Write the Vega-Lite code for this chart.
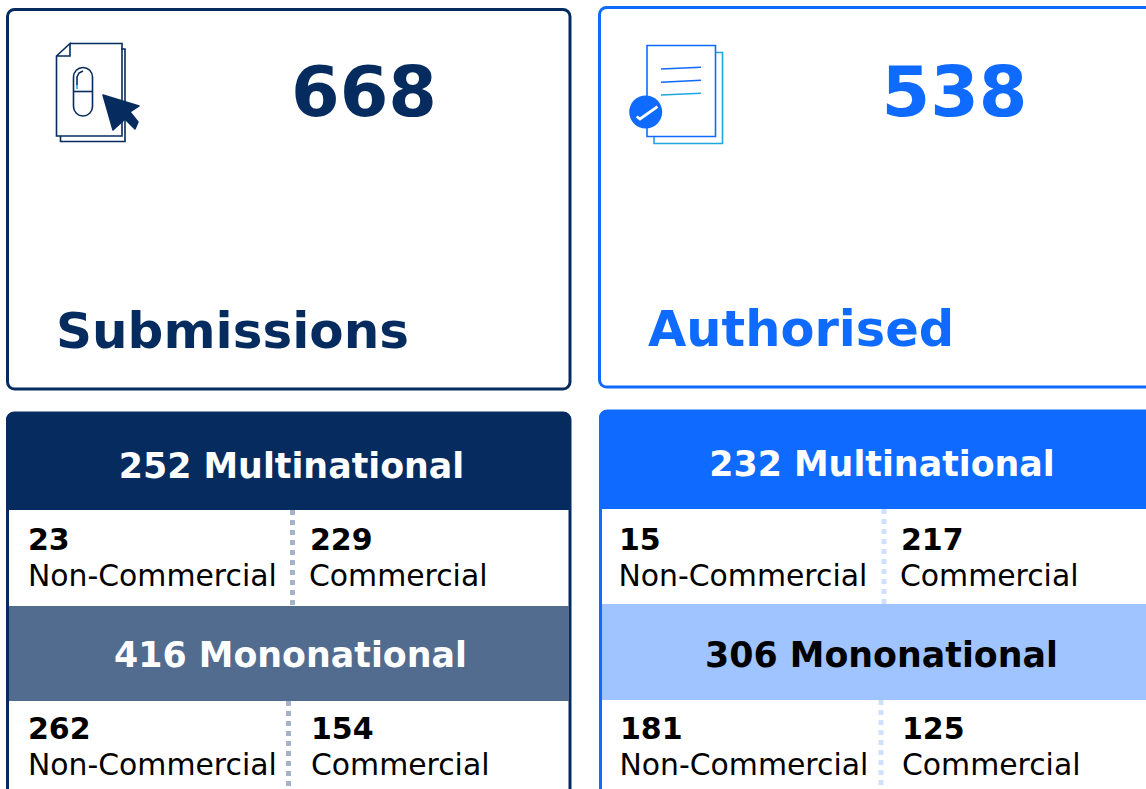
{
"$schema":"https://vega.github.io/schema/vega-lite/v6.json",
"width":1146,"height":789,"padding":0,"autosize":{"type":"none"},
"background":"white","view":{"stroke":null},
"config":{"text":{"font":"DejaVu Sans"}},
"datasets":{
"panels":[
{"name":"Submissions card","g":"navy","x0":7.5,"x1":570,"y0":9.5,"y1":389},
{"name":"Authorised card","g":"blue","x0":599.5,"x1":1170,"y0":7.5,"y1":387},
{"name":"Submissions table","g":"navy","x0":7.5,"x1":570,"y0":413,"y1":830},
{"name":"Authorised table","g":"blue","x0":600.5,"x1":1170,"y0":411,"y1":830}],
"heads":[
{"name":"Sub multinational","g":"navy","x0":6,"x1":571,"y0":412,"y1":510},
{"name":"Auth multinational","g":"blue","x0":599,"x1":1170,"y0":410,"y1":509}],
"bands":[
{"name":"Sub mononational","g":"navyLight","x0":9,"x1":568.5,"y0":606,"y1":701},
{"name":"Auth mononational","g":"blueLight","x0":602,"x1":1170,"y0":604,"y1":700}],
"dividers":[
{"g":"navyDash","x":292.5,"y0":510,"y1":605},
{"g":"navyDash","x":288.5,"y0":701,"y1":789},
{"g":"blueDash","x":884,"y0":509,"y1":604},
{"g":"blueDash","x":881,"y0":700,"y1":789}],
"big":[
{"t":"668","g":"navy","x":364,"y":116},
{"t":"538","g":"blue","x":954.5,"y":116}],
"titles":[
{"t":"Submissions","g":"navy","x":56,"y":348,"s":50},
{"t":"Authorised","g":"blue","x":648,"y":346,"s":49.5}],
"headers":[
{"t":"252 Multinational","g":"white","x":291.5,"y":478},
{"t":"232 Multinational","g":"white","x":882,"y":476},
{"t":"416 Mononational","g":"white","x":290.5,"y":667},
{"t":"306 Mononational","g":"black","x":881.5,"y":667}],
"nums":[
{"t":"23","x":28,"y":550},{"t":"229","x":310,"y":550},
{"t":"15","x":619,"y":550},{"t":"217","x":901,"y":550},
{"t":"262","x":28,"y":739},{"t":"154","x":311,"y":739},
{"t":"181","x":620,"y":739},{"t":"125","x":902,"y":739}],
"labels":[
{"t":"Non-Commercial","x":28,"y":586},{"t":"Commercial","x":309,"y":586},
{"t":"Non-Commercial","x":618.5,"y":586},{"t":"Commercial","x":900,"y":586},
{"t":"Non-Commercial","x":28,"y":775},{"t":"Commercial","x":311,"y":775},
{"t":"Non-Commercial","x":619.5,"y":775},{"t":"Commercial","x":902,"y":775}],
"iconRects":[
{"name":"auth back page","g":"cyan","x0":654,"x1":722.5,"y0":52.5,"y1":143.5},
{"name":"auth front page","g":"blue","x0":647,"x1":715.5,"y0":45.5,"y1":136.5}],
"pill":[{"name":"pill","g":"navy","x0":73.5,"x1":92.5,"y0":67.5,"y1":116}],
"iconLines":[
{"id":"back","g":"navy","o":1,"x":121,"y":49},{"id":"back","g":"navy","o":2,"x":125,"y":49},{"id":"back","g":"navy","o":3,"x":125,"y":141.5},{"id":"back","g":"navy","o":4,"x":60.5,"y":141.5},{"id":"back","g":"navy","o":5,"x":60.5,"y":136},
{"id":"front","g":"navy","o":1,"x":70,"y":43.5},{"id":"front","g":"navy","o":2,"x":122,"y":43.5},{"id":"front","g":"navy","o":3,"x":122,"y":136},{"id":"front","g":"navy","o":4,"x":56.5,"y":136},{"id":"front","g":"navy","o":5,"x":56.5,"y":56},{"id":"front","g":"navy","o":6,"x":70,"y":43.5},{"id":"front","g":"navy","o":7,"x":70,"y":56},{"id":"front","g":"navy","o":8,"x":56.5,"y":56},
{"id":"pillmid","g":"navy","o":1,"x":73.5,"y":91.5},{"id":"pillmid","g":"navy","o":2,"x":92.5,"y":91.5},
{"id":"shine","g":"navy","o":1,"x":77,"y":85},{"id":"shine","g":"navy","o":2,"x":77,"y":77},{"id":"shine","g":"navy","o":3,"x":79,"y":73},{"id":"shine","g":"navy","o":4,"x":83,"y":71},
{"id":"shine2","g":"cyan","o":1,"x":77,"y":85},{"id":"shine2","g":"cyan","o":2,"x":77,"y":89},
{"id":"l1","g":"blue","o":1,"x":661,"y":69},{"id":"l1","g":"blue","o":2,"x":701,"y":67.3},
{"id":"l2","g":"blue","o":1,"x":661,"y":82.3},{"id":"l2","g":"blue","o":2,"x":701,"y":80.3},
{"id":"l3","g":"cyan","o":1,"x":661,"y":95},{"id":"l3","g":"cyan","o":2,"x":701,"y":93.3}],
"cursor":[{"name":"cursor","g":"navy","x":103,"y":95}],
"badge":[{"name":"badge","g":"blue","x":645.7,"y":112}],
"check":[{"id":"check","g":"white","o":1,"x":636.7,"y":116.5},{"id":"check","g":"white","o":2,"x":640,"y":119},{"id":"check","g":"white","o":3,"x":657.5,"y":106.7}]
},
"encoding":{
"x":{"field":"x","type":"quantitative","scale":{"domain":[0,1146],"nice":false,"zero":false},"axis":null},
"y":{"field":"y","type":"quantitative","scale":{"domain":[789,0],"nice":false,"zero":false},"axis":null}
},
"resolve":{"scale":{"color":"shared","stroke":"shared"}},
"layer":[
{"data":{"name":"panels"},"mark":{"type":"rect","fill":"white","cornerRadius":7},
 "encoding":{"x":{"field":"x0","type":"quantitative","scale":{"domain":[0,1146]},"axis":null},"x2":{"field":"x1"},"y":{"field":"y0","type":"quantitative","scale":{"domain":[789,0]},"axis":null},"y2":{"field":"y1"}}},
{"data":{"name":"heads"},"mark":{"type":"rect","cornerRadiusTopLeft":8,"cornerRadiusTopRight":8},
 "encoding":{"x":{"field":"x0","type":"quantitative","axis":null},"x2":{"field":"x1"},"y":{"field":"y0","type":"quantitative","axis":null},"y2":{"field":"y1"},
 "color":{"field":"g","type":"nominal","legend":null,"scale":{"domain":["navy","blue","navyLight","blueLight","navyDash","blueDash","cyan","white","black"],"range":["#062c5f","#0f6bff","#526c8f","#9fc4ff","#a6b2c8","#cfe1ff","#1fa6e0","#ffffff","#000000"]}}}},
{"data":{"name":"bands"},"mark":{"type":"rect"},
 "encoding":{"x":{"field":"x0","type":"quantitative","axis":null},"x2":{"field":"x1"},"y":{"field":"y0","type":"quantitative","axis":null},"y2":{"field":"y1"},"color":{"field":"g","type":"nominal","legend":null}}},
{"data":{"name":"dividers"},"mark":{"type":"rule","strokeWidth":5,"strokeDash":[5,5]},
 "encoding":{"x":{"field":"x","type":"quantitative","axis":null},"y":{"field":"y0","type":"quantitative","axis":null},"y2":{"field":"y1"},"color":{"field":"g","type":"nominal","legend":null}}},
{"data":{"name":"panels"},"mark":{"type":"rect","fillOpacity":0,"strokeWidth":3,"cornerRadius":7,"filled":false},
 "encoding":{"x":{"field":"x0","type":"quantitative","axis":null},"x2":{"field":"x1"},"y":{"field":"y0","type":"quantitative","axis":null},"y2":{"field":"y1"},"color":{"field":"g","type":"nominal","legend":null}}},
{"data":{"name":"iconRects"},"mark":{"type":"rect","filled":false,"strokeWidth":1.6,"fill":"white","fillOpacity":1},
 "encoding":{"x":{"field":"x0","type":"quantitative","axis":null},"x2":{"field":"x1"},"y":{"field":"y0","type":"quantitative","axis":null},"y2":{"field":"y1"},"color":{"field":"g","type":"nominal","legend":null}}},
{"data":{"name":"pill"},"mark":{"type":"rect","filled":false,"strokeWidth":1.6,"cornerRadius":9.5},
 "encoding":{"x":{"field":"x0","type":"quantitative","axis":null},"x2":{"field":"x1"},"y":{"field":"y0","type":"quantitative","axis":null},"y2":{"field":"y1"},"color":{"field":"g","type":"nominal","legend":null}}},
{"data":{"name":"iconLines"},"mark":{"type":"line","strokeWidth":1.6,"strokeJoin":"miter"},
 "encoding":{"detail":{"field":"id"},"order":{"field":"o","type":"quantitative"},"color":{"field":"g","type":"nominal","legend":null}}},
{"data":{"name":"cursor"},"mark":{"type":"point","filled":true,"opacity":1,"size":4,"stroke":"#062c5f","strokeWidth":1.5,"strokeJoin":"round","shape":"M0 0L36 11L27 17L35 27L32 34L22 24L10 35Z"},
 "encoding":{"color":{"field":"g","type":"nominal","legend":null}}},
{"data":{"name":"badge"},"mark":{"type":"point","filled":true,"opacity":1,"shape":"circle","size":1089},
 "encoding":{"color":{"field":"g","type":"nominal","legend":null}}},
{"data":{"name":"check"},"mark":{"type":"line","strokeWidth":2.8},
 "encoding":{"detail":{"field":"id"},"order":{"field":"o","type":"quantitative"},"color":{"field":"g","type":"nominal","legend":null}}},
{"data":{"name":"big"},"mark":{"type":"text","font":"DejaVu Sans","fontWeight":"bold","fontSize":70,"align":"center","baseline":"alphabetic"},
 "encoding":{"text":{"field":"t"},"color":{"field":"g","type":"nominal","legend":null}}},
{"data":{"name":"titles"},"mark":{"type":"text","font":"DejaVu Sans","fontWeight":"bold","align":"left","baseline":"alphabetic"},
 "encoding":{"text":{"field":"t"},"size":{"field":"s","type":"quantitative","scale":null},"color":{"field":"g","type":"nominal","legend":null}}},
{"data":{"name":"headers"},"mark":{"type":"text","font":"DejaVu Sans","fontWeight":"bold","fontSize":34.8,"align":"center","baseline":"alphabetic"},
 "encoding":{"text":{"field":"t"},"color":{"field":"g","type":"nominal","legend":null}}},
{"data":{"name":"nums"},"mark":{"type":"text","font":"DejaVu Sans","fontWeight":"bold","fontSize":30,"align":"left","baseline":"alphabetic","color":"#000000"},
 "encoding":{"text":{"field":"t"}}},
{"data":{"name":"labels"},"mark":{"type":"text","font":"DejaVu Sans","fontSize":29.85,"align":"left","baseline":"alphabetic","color":"#000000"},
 "encoding":{"text":{"field":"t"}}}
]
}
